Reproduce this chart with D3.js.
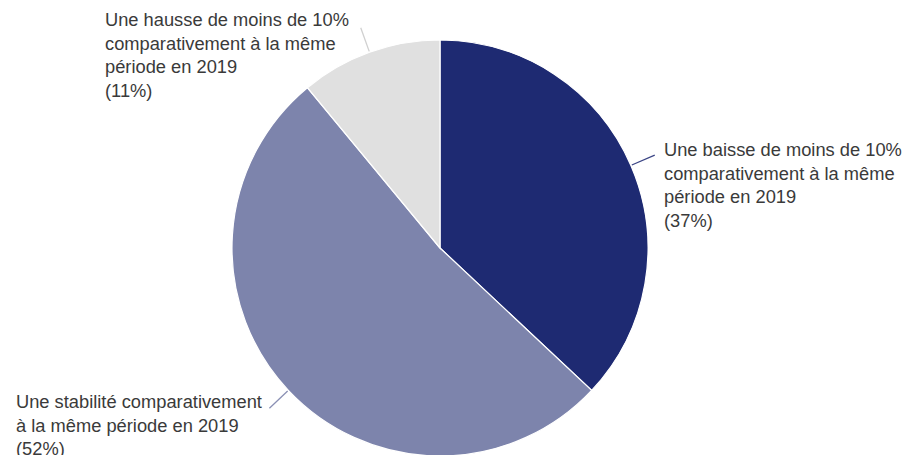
<!DOCTYPE html>
<html><head><meta charset="utf-8">
<script src="https://cdn.jsdelivr.net/npm/d3@7"></script>
<style>body{margin:0;background:#fff}svg{display:block}</style>
</head><body>
<svg id="c" width="905" height="455"></svg>
<script>
const categories = [
  "Une baisse de moins de 10% comparativement à la même période en 2019",
  "Une stabilité comparativement à la même période en 2019",
  "Une hausse de moins de 10% comparativement à la même période en 2019"
];
const values = [37, 52, 11];
const colors = ["#1e2a72", "#7d84ac", "#e0e0e0"];
const labelLines = [
  ["Une baisse de moins de 10%", "comparativement à la même", "période en 2019", "(37%)"],
  ["Une stabilité comparativement", "à la même période en 2019", "(52%)"],
  ["Une hausse de moins de 10%", "comparativement à la même", "période en 2019", "(11%)"]
];

const svg = d3.select("#c");
const cx = 440, cy = 248, R = 208;
const g = svg.append("g").attr("transform", `translate(${cx},${cy})`);
const pie = d3.pie().sort(null).value(d => d)(values);
const arc = d3.arc().innerRadius(0).outerRadius(R);
g.selectAll("path.s").data(pie).join("path")
  .attr("d", arc).attr("fill", (d, i) => colors[i])
  .attr("stroke", "#fff").attr("stroke-width", 1.2);

// leader lines
const lineColors = ["#3b4585", "#8a90b4", "#d0d0d0"];
const lineLen = 26;
pie.forEach((d, i) => {
  const a = (d.startAngle + d.endAngle) / 2;
  const x1 = Math.sin(a) * (R + 1), y1 = -Math.cos(a) * (R + 1);
  const x2 = Math.sin(a) * (R + lineLen), y2 = -Math.cos(a) * (R + lineLen);
  g.append("line").attr("x1", x1).attr("y1", y1).attr("x2", x2).attr("y2", y2)
    .attr("stroke", lineColors[i]).attr("stroke-width", 1.3);
});

// labels
const labelPos = [[664, 156], [16, 408], [105, 26]];
const lh = 23.5;
labelLines.forEach((lines, i) => {
  const t = svg.append("text").attr("x", labelPos[i][0]).attr("y", labelPos[i][1])
    .attr("font-family", "Liberation Sans, Arial, sans-serif")
    .attr("font-size", 18.3).attr("fill", "#3a3a3a");
  lines.forEach((l, j) => t.append("tspan").attr("x", labelPos[i][0]).attr("dy", j ? lh : 0).text(l));
});
</script>
</body></html>
